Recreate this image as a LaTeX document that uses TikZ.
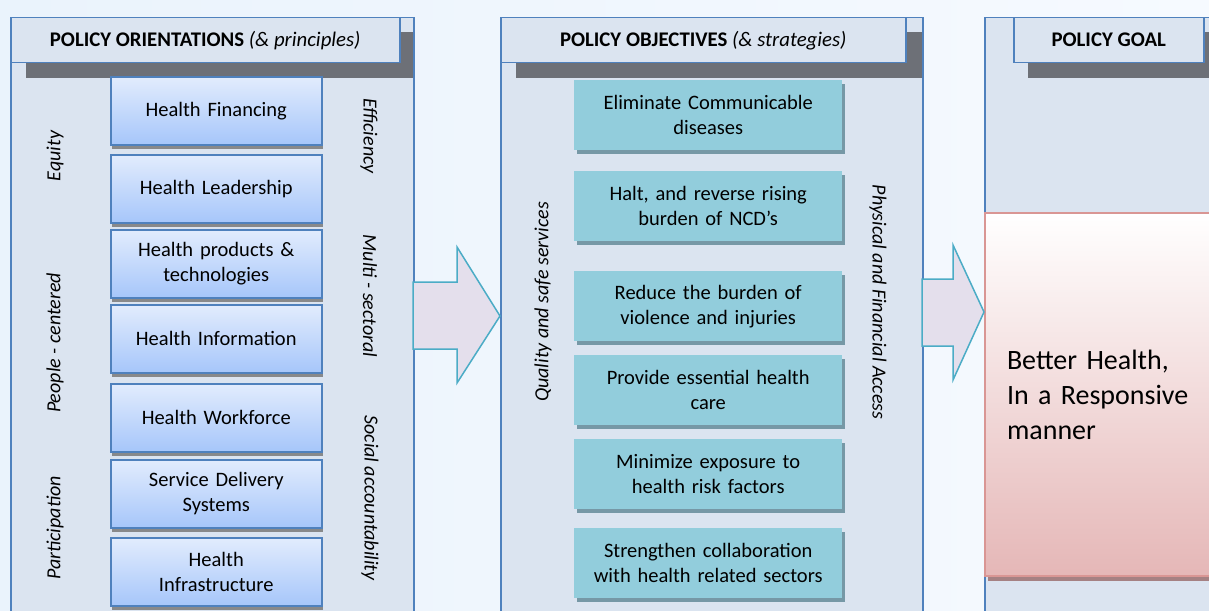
\documentclass[tikz,border=0pt]{standalone}
\usepackage{fontspec}
\setmainfont{Carlito}
\usetikzlibrary{shadows}
\usetikzlibrary{positioning}

\definecolor{bgleft}{RGB}{234,243,252}
\definecolor{bgright}{RGB}{246,250,255}
\definecolor{panelfill}{RGB}{219,228,240}
\definecolor{panelline}{RGB}{79,129,189}
\definecolor{hdrshade}{RGB}{109,112,119}
\definecolor{boxtop}{RGB}{226,236,253}
\definecolor{boxbottom}{RGB}{166,198,250}
\definecolor{tealbox}{RGB}{146,205,220}
\definecolor{tealshade}{RGB}{118,152,166}
\definecolor{arrowfill}{RGB}{228,223,236}
\definecolor{arrowline}{RGB}{75,172,198}
\definecolor{goalline}{RGB}{217,150,148}
\definecolor{goalbottom}{RGB}{229,183,183}

\begin{document}
\begin{tikzpicture}[x=1pt, y=-1pt,
  panel/.style={draw=panelline, line width=1.5pt, fill=panelfill, anchor=north west, inner sep=0pt},
  header/.style={draw=panelline, line width=1.5pt, fill=panelfill, anchor=north west, inner sep=0pt,
    minimum height=45pt, font=\fontsize{20.8}{24}\selectfont},
  pillar/.style={draw=panelline, line width=1.5pt, top color=boxtop, bottom color=boxbottom,
    anchor=north west, minimum width=211pt, minimum height=68pt, text width=200pt, align=center,
    inner sep=0pt, font=\fontsize{20.5}{25}\selectfont,
    drop shadow={shadow xshift=1.5pt, shadow yshift=-4pt, fill=gray, opacity=0.9}},
  aim/.style={fill=tealbox, anchor=north west, minimum width=268pt, minimum height=70pt,
    text width=260pt, align=center, inner sep=0pt, font=\fontsize{20.5}{25}\selectfont,
    drop shadow={shadow xshift=3pt, shadow yshift=-4pt, fill=tealshade, opacity=1}},
  side/.style={font=\fontsize{20}{24}\selectfont\itshape},
  bigarrow/.style={draw=arrowline, line width=1.5pt, fill=arrowfill, line join=miter},
  goalbox/.style={draw=goalline, line width=2pt, top color=white, bottom color=goalbottom,
    anchor=north west, minimum width=246pt, minimum height=363pt, text width=202pt, align=left,
    inner xsep=22pt, inner ysep=0pt, font=\fontsize{28}{35}\selectfont,
    drop shadow={shadow xshift=3pt, shadow yshift=-5pt, fill=goalline!70!black, opacity=0.8}}]

  \useasboundingbox (0,0) rectangle (1209,610);
  \clip (0,0) rectangle (1209,610);

  \shade[left color=bgleft, right color=bgright] (0,0) rectangle (1209,610);

  % three panels
  \node[panel, minimum width=403pt, minimum height=620pt] (orient) at (10,17) {};
  \node[panel, minimum width=422pt, minimum height=620pt] (object) at (500,17) {};
  \node[panel, minimum width=250pt, minimum height=620pt] (goalpanel) at (984,17) {};

  \fill[hdrshade] (26,32) rectangle (413,78);
  \fill[hdrshade] (516,32) rectangle (922,78);
  \fill[hdrshade] (1028,32) rectangle (1234,78);

  \node[header, minimum width=389pt] (orienthead) at (10,17)
    {\textbf{POLICY ORIENTATIONS} \textit{(\& principles)}};
  \node[header, minimum width=405pt] (objecthead) at (500,17)
    {\textbf{POLICY OBJECTIVES} \textit{(\& strategies)}};
  \node[header, minimum width=190pt] (goalhead) at (1013,17)
    {\textbf{POLICY GOAL}};

  % building blocks
  \node[pillar] (financing) at (110,76) {Health Financing};
  \node[pillar] (leadership) at (110,154) {Health Leadership};
  \node[pillar] (products) at (110,229) {Health products \&\\ technologies};
  \node[pillar] (information) at (110,304) {Health Information};
  \node[pillar] (workforce) at (110,383) {Health Workforce};
  \node[pillar] (delivery) at (110,459) {Service Delivery\\ Systems};
  \node[pillar] (infra) at (110,537) {Health\\ Infrastructure};

  \node[side, rotate=90] (equity) at (55,156) {Equity};
  \node[side, rotate=90] (people) at (55,343) {People - centered};
  \node[side, rotate=90] (participation) at (55,528) {Participation};

  \node[side, rotate=-90] (efficiency) at (369,136) {Efficiency};
  \node[side, rotate=-90] (multi) at (370,296) {Multi - sectoral};
  \node[side, rotate=-90] (social) at (370,498) {Social accountability};

  % objectives
  \node[aim] (communicable) at (574,80) {Eliminate Communicable\\ diseases};
  \node[aim] (ncd) at (574,171) {Halt, and reverse rising\\ burden of NCD’s};
  \node[aim] (violence) at (574,271) {Reduce the burden of\\ violence and injuries};
  \node[aim] (essential) at (574,355) {Provide essential health\\ care};
  \node[aim] (risk) at (574,439) {Minimize exposure to\\ health risk factors};
  \node[aim] (collab) at (574,528) {Strengthen collaboration\\ with health related sectors};

  \node[side, rotate=90] (quality) at (543,302) {Quality and safe services};
  \node[side, rotate=-90] (access) at (878,302) {Physical and Financial Access};

  % goal
  \node[goalbox] (goal) at (984,212) {Better Health,\\In a Responsive\\manner};

  \draw[bigarrow] (413,282) -- (457,282) -- (457,247) -- (500,316) -- (457,383) -- (457,349) -- (413,349) -- cycle;

  \draw[bigarrow] (922,279) -- (953,279) -- (953,245) -- (984,312) -- (953,380) -- (953,346) -- (922,346) -- cycle;

\end{tikzpicture}
\end{document}
